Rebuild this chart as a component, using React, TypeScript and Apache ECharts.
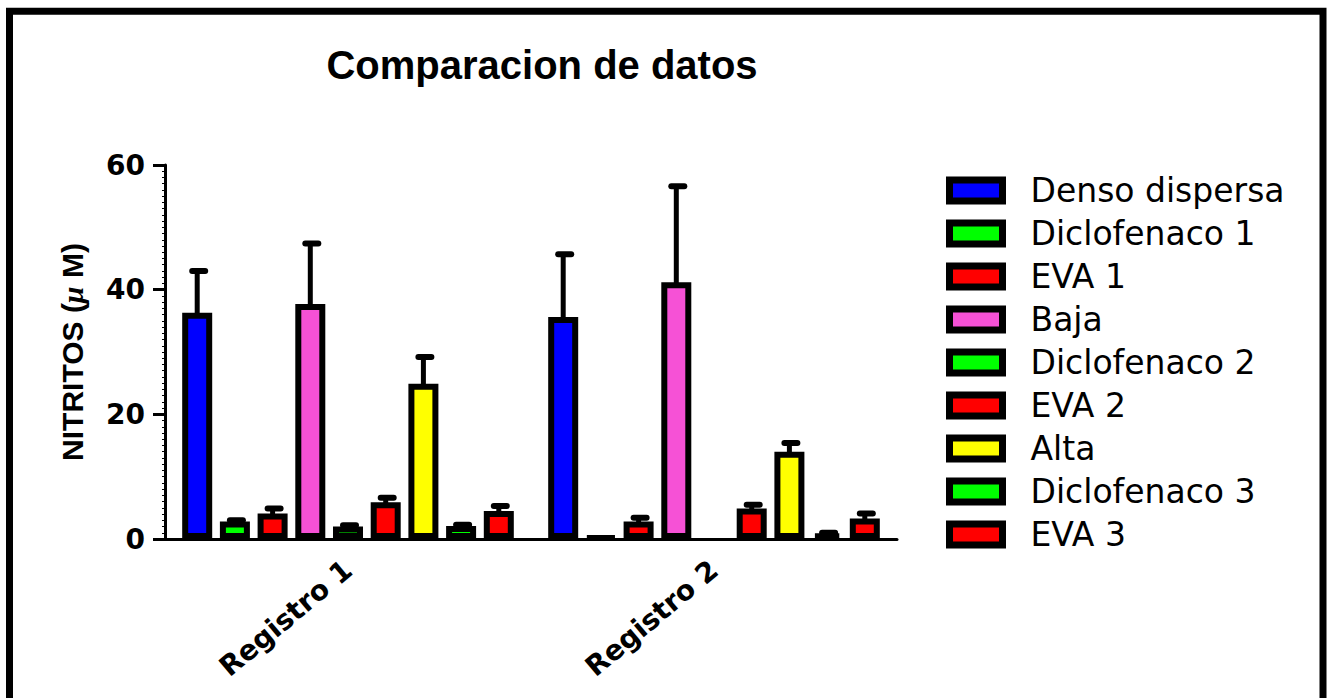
import React, { useEffect, useRef } from 'react';
import * as echarts from 'echarts';

const titleText = 'Comparacion de datos';
const categories = ['Registro 1', 'Registro 2'];
const yTicks = [0, 20, 40, 60];

const seriesNames = [
  'Denso dispersa',
  'Diclofenaco 1',
  'EVA 1',
  'Baja',
  'Diclofenaco 2',
  'EVA 2',
  'Alta',
  'Diclofenaco 3',
  'EVA 3',
];

// mean values per series: [Registro 1, Registro 2]
const densoDispersa = [36.3, 35.6];
const diclofenaco1 = [2.8, 0.3];
const eva1 = [4.1, 2.8];
const baja = [37.7, 41.2];
const diclofenaco2 = [2.0, 0];
const eva2 = [5.9, 4.9];
const alta = [24.9, 14.0];
const diclofenaco3 = [2.1, 0.9];
const eva3 = [4.5, 3.3];

// upper error (SEM) per series
const errDensoDispersa = [6.7, 10.1];
const errDiclofenaco1 = [0.2, 0];
const errEva1 = [0.8, 0.6];
const errBaja = [9.7, 15.4];
const errDiclofenaco2 = [0.2, 0];
const errEva2 = [0.7, 0.6];
const errAlta = [4.3, 1.4];
const errDiclofenaco3 = [0.2, 0.1];
const errEva3 = [0.8, 0.8];

const seriesValues = [densoDispersa, diclofenaco1, eva1, baja, diclofenaco2, eva2, alta, diclofenaco3, eva3];
const seriesErrors = [errDensoDispersa, errDiclofenaco1, errEva1, errBaja, errDiclofenaco2, errEva2, errAlta, errDiclofenaco3, errEva3];

const colors = ['#0000ff', '#00ff00', '#ff0000', '#f651d6', '#00ff00', '#ff0000', '#ffff00', '#00ff00', '#ff0000'];

const BAR_WIDTH = 30;
const PITCH = 37.7;
const BAR_GAP = (PITCH - BAR_WIDTH) / BAR_WIDTH;

export default function App() {
  const ref = useRef<HTMLDivElement>(null);

  useEffect(() => {
    if (!ref.current) return;
    const chart = echarts.init(ref.current, undefined, { renderer: 'svg' });

    const barSeries = seriesNames.map((name, i) => ({
      name,
      type: 'bar',
      barWidth: BAR_WIDTH,
      barGap: (BAR_GAP * 100).toFixed(2) + '%',
      itemStyle: { color: colors[i], borderColor: '#000', borderWidth: 6 },
      data: seriesValues[i].map((v) => (v === 0 ? { value: v, itemStyle: { borderWidth: 0 } } : v)),
      z: 2,
    }));

    const errData: number[][] = [];
    seriesValues.forEach((vals, s) => {
      vals.forEach((v, c) => {
        errData.push([c, s, v, seriesErrors[s][c]]);
      });
    });

    const errorSeries = {
      name: 'error',
      type: 'custom',
      z: 3,
      data: errData,
      encode: { x: 0, y: 2 },
      renderItem: (params: any, api: any) => {
        const c = api.value(0);
        const s = api.value(1);
        const v = api.value(2);
        const e = api.value(3);
        if (!e) return null;
        const base = api.coord([c, v]);
        const top = api.coord([c, v + e]);
        const x = base[0] + (s - 4) * PITCH;
        return {
          type: 'group',
          children: [
            { type: 'line', shape: { x1: x, y1: base[1] + 2, x2: x, y2: top[1] }, style: { stroke: '#000', lineWidth: 5 } },
            { type: 'line', shape: { x1: x - 5, y1: top[1], x2: x + 8, y2: top[1] }, style: { stroke: '#000', lineWidth: 6, lineCap: 'round' } },
          ],
        };
      },
    };

    chart.setOption({
      animation: false,
      backgroundColor: '#fff',
      title: {
        text: titleText,
        left: 537,
        textAlign: 'center',
        top: 40,
        textStyle: { fontFamily: 'Liberation Sans', fontWeight: 'bold', fontSize: 40, color: '#000' },
      },
      graphic: [
        {
          type: 'rect',
          shape: { x: 9.5, y: 11.3, width: 1313.5, height: 720 },
          style: { fill: 'none', stroke: '#000', lineWidth: 7 },
          silent: true,
        },
      ],
      legend: {
        orient: 'vertical',
        left: 946,
        top: 174,
        padding: 0,
        itemGap: 10,
        itemWidth: 53,
        itemHeight: 21,
        icon: 'rect',
        data: seriesNames,
        itemStyle: { borderColor: '#000', borderWidth: 7 },
        textStyle: { fontFamily: 'DejaVu Sans', fontSize: 33, color: '#000', padding: [0, 0, 0, 23] },
      },
      grid: { left: 165, top: 165, width: 732, height: 374 },
      xAxis: {
        type: 'category',
        data: categories,
        axisLine: { lineStyle: { color: '#000', width: 3 } },
        axisTick: { alignWithLabel: true, length: 10, lineStyle: { color: '#000', width: 3 } },
        axisLabel: {
          rotate: 40,
          margin: 27,
          fontFamily: 'DejaVu Sans',
          fontWeight: 'bold',
          fontSize: 28,
          color: '#000',
        },
      },
      yAxis: {
        type: 'value',
        min: yTicks[0],
        max: yTicks[yTicks.length - 1],
        interval: yTicks[1] - yTicks[0],
        name: 'NITRITOS ({mu|μ} M)',
        nameLocation: 'middle',
        nameGap: 78,
        nameTextStyle: {
          fontFamily: 'Liberation Sans',
          fontWeight: 'bold',
          fontSize: 30,
          color: '#000',
          rich: {
            mu: { fontFamily: 'Liberation Serif', fontStyle: 'italic', fontWeight: 'bold', fontSize: 30, color: '#000' },
          },
        },
        axisLine: { show: true, lineStyle: { color: '#000', width: 3 } },
        axisTick: { show: true, length: 12, lineStyle: { color: '#000', width: 3 } },
        minorTick: { show: true, splitNumber: 20, length: 3, lineStyle: { color: '#000', width: 1 } },
        splitLine: { show: false },
        axisLabel: {
          margin: 20,
          fontFamily: 'DejaVu Sans',
          fontWeight: 'bold',
          fontSize: 28,
          color: '#000',
        },
      },
      series: [...barSeries, errorSeries],
    });

    return () => chart.dispose();
  }, []);

  return (
    <div
      ref={ref}
      style={{ position: 'fixed', left: 0, top: 0, width: 1328, height: 698, background: '#fff' }}
    />
  );
}
